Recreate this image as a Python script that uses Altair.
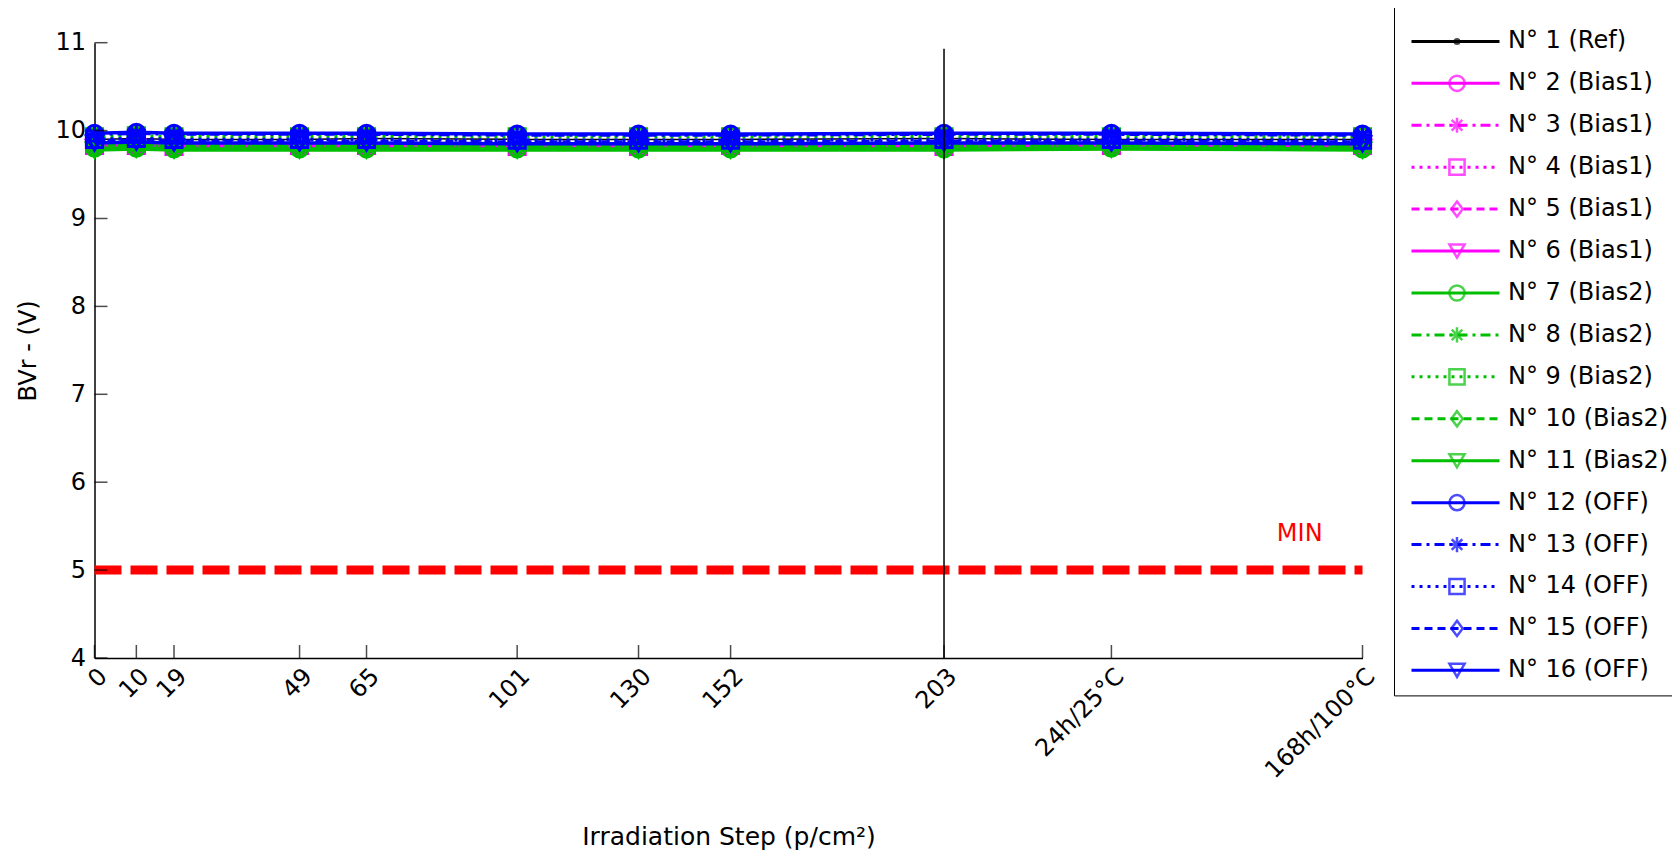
import altair as alt
import pandas as pd

# ---------------- data ----------------
x_steps = [0, 10, 19, 49, 65, 101, 130, 152, 203, 243, 303]
x_tick_labels = ["0", "10", "19", "49", "65", "101", "130", "152", "203",
                 "24h/25°C", "168h/100°C"]
y_ticks = [4, 5, 6, 7, 8, 9, 10, 11]

series_names = ["N° 1 (Ref)", "N° 2 (Bias1)", "N° 3 (Bias1)", "N° 4 (Bias1)",
                "N° 5 (Bias1)", "N° 6 (Bias1)", "N° 7 (Bias2)", "N° 8 (Bias2)",
                "N° 9 (Bias2)", "N° 10 (Bias2)", "N° 11 (Bias2)", "N° 12 (OFF)",
                "N° 13 (OFF)", "N° 14 (OFF)", "N° 15 (OFF)", "N° 16 (OFF)"]

v01 = [9.90, 9.91, 9.90, 9.90, 9.91, 9.90, 9.90, 9.90, 9.91, 9.90, 9.90]
v02 = [9.84, 9.85, 9.84, 9.84, 9.84, 9.84, 9.83, 9.84, 9.84, 9.85, 9.84]
v03 = [9.81, 9.82, 9.81, 9.81, 9.81, 9.81, 9.80, 9.81, 9.81, 9.82, 9.80]
v04 = [9.83, 9.83, 9.82, 9.83, 9.83, 9.82, 9.82, 9.83, 9.82, 9.83, 9.83]
v05 = [9.85, 9.86, 9.85, 9.85, 9.85, 9.85, 9.84, 9.85, 9.85, 9.86, 9.85]
v06 = [9.81, 9.82, 9.81, 9.81, 9.81, 9.81, 9.80, 9.81, 9.81, 9.82, 9.81]
v07 = [9.80, 9.80, 9.79, 9.79, 9.79, 9.79, 9.79, 9.79, 9.79, 9.80, 9.79]
v08 = [9.83, 9.83, 9.82, 9.82, 9.82, 9.82, 9.82, 9.82, 9.82, 9.83, 9.82]
v09 = [9.93, 9.94, 9.93, 9.93, 9.93, 9.93, 9.93, 9.93, 9.93, 9.93, 9.93]
v10 = [9.84, 9.84, 9.83, 9.83, 9.83, 9.83, 9.83, 9.83, 9.83, 9.84, 9.83]
v11 = [9.78, 9.79, 9.78, 9.78, 9.78, 9.78, 9.78, 9.78, 9.78, 9.79, 9.78]
v12 = [9.97, 9.98, 9.97, 9.97, 9.97, 9.96, 9.96, 9.96, 9.97, 9.97, 9.96]
v13 = [9.96, 9.97, 9.96, 9.96, 9.96, 9.95, 9.95, 9.95, 9.96, 9.96, 9.95]
v14 = [9.90, 9.91, 9.90, 9.90, 9.90, 9.89, 9.89, 9.89, 9.90, 9.90, 9.89]
v15 = [9.88, 9.89, 9.88, 9.88, 9.88, 9.87, 9.87, 9.87, 9.88, 9.88, 9.87]
v16 = [9.86, 9.87, 9.86, 9.86, 9.86, 9.85, 9.85, 9.85, 9.86, 9.86, 9.85]
series_values = [v01, v02, v03, v04, v05, v06, v07, v08, v09, v10, v11,
                 v12, v13, v14, v15, v16]

min_level = 5
min_label = "MIN"
min_label_pos = [288, 5.41]
vline_x = 203
vline_y = [4, 10.93]

# ---------------- styles ----------------
MAG, GRN, BLU = "#FF00FF", "#00BF00", "#0000FF"
series_colors = ["#000000"] + [MAG] * 5 + [GRN] * 5 + [BLU] * 5

SOLID, DASHDOT, DOT, DASH = [1, 0], [10, 5, 3, 5], [3, 5], [8, 5]
style_cycle = [SOLID, DASHDOT, DOT, DASH, SOLID]
series_dash = [SOLID] + style_cycle * 3

P_DOT = "M-0.3,0A0.3,0.3 0 1,0 0.3,0A0.3,0.3 0 1,0 -0.3,0Z"
P_STAR = "M0,-1L0,1M-1,0L1,0M-0.7,-0.7L0.7,0.7M-0.7,0.7L0.7,-0.7"
P_DIAM = "M0,-1L0.75,0L0,1L-0.75,0Z"
marker_cycle = ["circle", P_STAR, "square", P_DIAM, "triangle-down"]
series_shapes = [P_DOT] + marker_cycle * 3

FONT = "DejaVu Sans"
FS = 24
LFS = 24

rows = []
for name, vals in zip(series_names, series_values):
    for xv, yv in zip(x_steps, vals):
        rows.append({"series": name, "x": xv, "y": yv})
df = pd.DataFrame(rows)

# ---------------- scales / axes ----------------
W, H = 1268, 615.3
label_expr = "datum.label"
for v, lab in zip(x_steps, x_tick_labels):
    label_expr = f"datum.value == {v} ? '{lab}' : (" + label_expr + ")"

x_axis = alt.Axis(values=x_steps, labelExpr=label_expr, labelAngle=-45,
                  labelAlign="right", labelBaseline="top", labelPadding=6,
                  labelOverlap=False, labelFlush=False, ticks=False, tickSize=0,
                  grid=False, domainColor="black", domainWidth=1.5,
                  labelFont=FONT, labelFontSize=FS, labelColor="black",
                  title="Irradiation Step (p/cm²)", titleFont=FONT,
                  titleFontSize=25, titleFontWeight="normal", titleColor="black",
                  titleX=W / 2, titleY=178, titleAlign="center",
                  titleBaseline="middle")
y_axis = alt.Axis(values=y_ticks, format="d", ticks=False, tickSize=0, grid=False,
                  labelPadding=9, labelOverlap=False, labelFlush=False,
                  domainColor="black", domainWidth=1.5, labelFont=FONT,
                  labelFontSize=FS, labelColor="black", title="BVr - (V)",
                  titleFont=FONT, titleFontSize=FS, titleFontWeight="normal",
                  titleColor="black", titleX=-66, titleY=H / 2, titleAngle=-90,
                  titleAlign="center", titleBaseline="middle")

x_enc = alt.X("x:Q", scale=alt.Scale(domain=[0, 303], nice=False, zero=False),
              axis=x_axis)
y_enc = alt.Y("y:Q", scale=alt.Scale(domain=[4, 11], nice=False, zero=False),
              axis=y_axis)

layers = []

# MIN line
min_df = pd.DataFrame({"x": [x_steps[0]], "x2": [x_steps[-1]], "y": [min_level]})
layers.append(alt.Chart(min_df).mark_rule(color="#FF0000", strokeWidth=9,
                                          strokeDash=[27, 9], strokeCap="butt")
              .encode(x=x_enc, x2="x2:Q", y=y_enc))

# data series
for name, col, dash, shp in zip(series_names, series_colors, series_dash, series_shapes):
    base = alt.Chart().transform_filter(alt.datum.series == name).encode(x=x_enc, y=y_enc)
    lw = 1.5 if name == series_names[0] else 3.5
    if dash == SOLID:
        layers.append(base.mark_line(color=col, strokeWidth=lw))
    else:
        layers.append(base.mark_line(color=col, strokeWidth=lw, strokeDash=dash))
    layers.append(base.mark_point(color=col, shape=shp, filled=False, strokeWidth=3,
                                  size=260, opacity=1))

# vertical line at 203
vl_df = pd.DataFrame({"x": [vline_x], "y": [vline_y[0]], "y2": [vline_y[1]]})
layers.append(alt.Chart(vl_df).mark_rule(color="black", strokeWidth=1.5)
              .encode(x=x_enc, y=y_enc, y2="y2:Q"))

# inward ticks
xt_df = pd.DataFrame({"x": x_steps, "y": [y_ticks[0]] * len(x_steps)})
layers.append(alt.Chart(xt_df).mark_tick(orient="vertical", size=13, thickness=1.5,
                                         yOffset=-6.5, color="black")
              .encode(x=x_enc, y=y_enc))
yt_df = pd.DataFrame({"y": y_ticks, "x": [x_steps[0]] * len(y_ticks)})
layers.append(alt.Chart(yt_df).mark_tick(orient="horizontal", size=13, thickness=1.5,
                                         xOffset=6.5, color="black")
              .encode(x=x_enc, y=y_enc))

# MIN label
ml_df = pd.DataFrame({"x": [min_label_pos[0]], "y": [min_label_pos[1]], "t": [min_label]})
layers.append(alt.Chart(ml_df).mark_text(color="#FF0000", font=FONT, fontSize=24,
                                         align="center", baseline="middle")
              .encode(x=x_enc, y=y_enc, text="t:N"))

# legends (two overlaid legends: line styles + markers)
LEG_Y = 3.4 - 42.7
leg_common = dict(orient="none", legendY=LEG_Y, title=" ", titleFontSize=5,
                  titlePadding=8, padding=12, rowPadding=15.93, clipHeight=26,
                  labelFont=FONT, labelFontSize=LFS, labelLimit=400,
                  labelColor="black")
legA = alt.Legend(legendX=1394 - 94.5, symbolType="stroke", symbolSize=7744,
                  symbolStrokeWidth=3, symbolOffset=4, labelOpacity=0, labelOffset=8,
                  strokeColor="black", fillColor="white", cornerRadius=0, **leg_common)
legB = alt.Legend(legendX=1433 - 94.5, symbolSize=230, symbolStrokeWidth=2.5,
                  labelOffset=39, **leg_common)

LA = alt.Chart().transform_filter("false").mark_line().encode(
    x=x_enc, y=y_enc,
    color=alt.Color("series:N", scale=alt.Scale(domain=series_names, range=series_colors),
                    legend=legA),
    strokeDash=alt.StrokeDash("series:N",
                              scale=alt.Scale(domain=series_names, range=series_dash),
                              legend=legA),
)
LB = alt.Chart().transform_filter("false").mark_point(filled=False, strokeWidth=2.5).encode(
    x=x_enc, y=y_enc,
    color=alt.Color("series:N", scale=alt.Scale(domain=series_names, range=series_colors),
                    legend=legB),
    shape=alt.Shape("series:N", scale=alt.Scale(domain=series_names, range=series_shapes),
                    legend=legB),
)
layers.append(LA)
layers.append(LB)

chart = (alt.layer(*layers, data=df)
         .resolve_scale(color="independent", strokeDash="independent",
                        shape="independent")
         .properties(width=W, height=H, background="white",
                     autosize=alt.AutoSizeParams(type="none"),
                     padding={"left": 86.5, "top": 34.7, "right": 309.5, "bottom": 193})
         .configure_view(stroke="transparent", strokeWidth=0))

chart.save("out.html", embed_options={"renderer": "svg", "actions": False})
